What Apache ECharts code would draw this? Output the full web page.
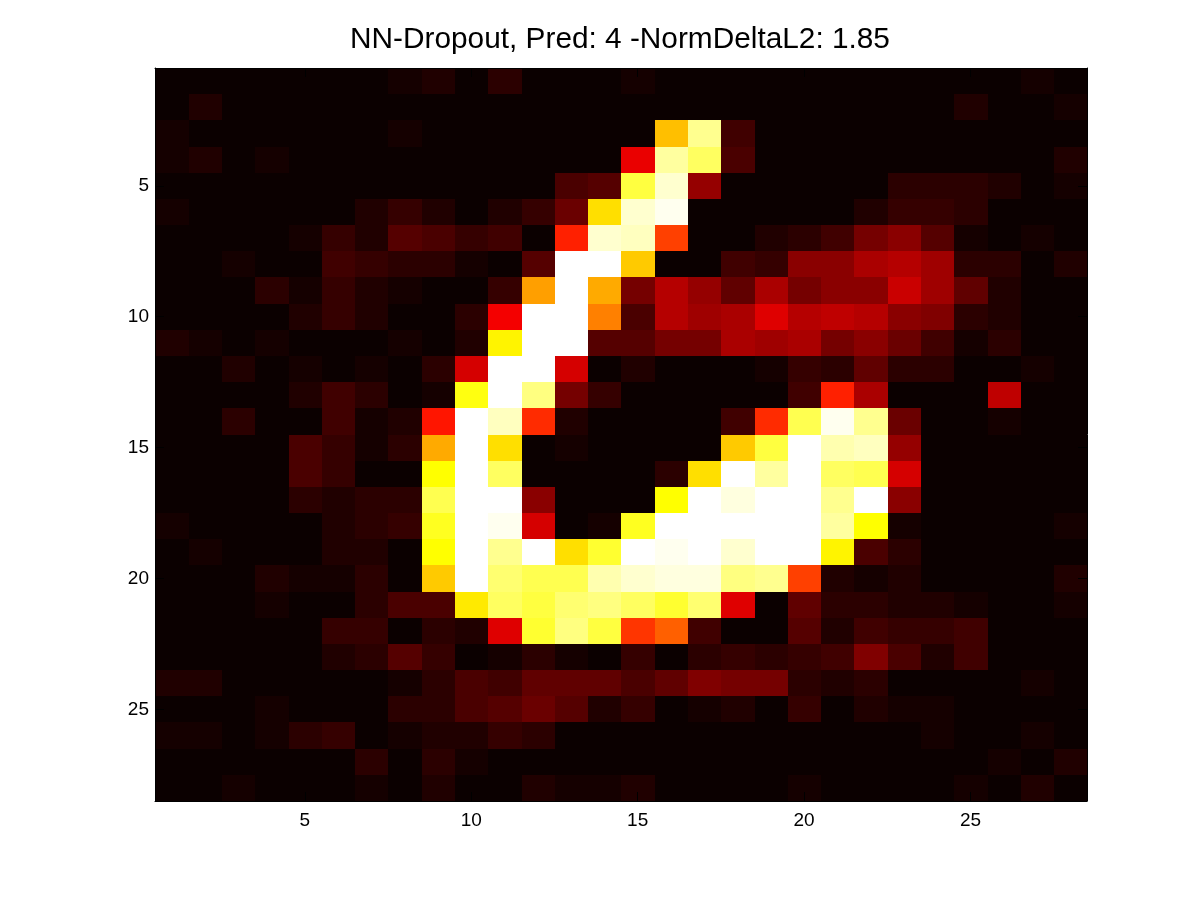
<!DOCTYPE html>
<html>
<head>
<meta charset="utf-8">
<title>NN-Dropout</title>
<script src="https://cdn.jsdelivr.net/npm/echarts@6/dist/echarts.min.js"></script>
<style>
  html, body { margin: 0; background: #fff; }
  #chart { width: 1200px; height: 900px; }
</style>
</head>
<body>
<div id="chart"></div>
<script>
  const titleText = 'NN-Dropout, Pred: 4 -NormDeltaL2: 1.85';
  const columns = [1,2,3,4,5,6,7,8,9,10,11,12,13,14,15,16,17,18,19,20,21,22,23,24,25,26,27,28];
  const rowLabels = [1,2,3,4,5,6,7,8,9,10,11,12,13,14,15,16,17,18,19,20,21,22,23,24,25,26,27,28];
  const tickLabels = [5, 10, 15, 20, 25];

  // colormap index (0-63) per cell
  const cells = [
    [0,0,0,0,0,0,0,1,2,0,3,0,0,0,1,0,0,0,0,0,0,0,0,0,0,0,1,0],
    [0,2,0,0,0,0,0,0,0,0,0,0,0,0,0,0,0,0,0,0,0,0,0,0,2,0,0,1],
    [1,0,0,0,0,0,0,1,0,0,0,0,0,0,0,41,56,5,0,0,0,0,0,0,0,0,0,0],
    [1,2,0,1,0,0,0,0,0,0,0,0,0,0,21,57,53,6,0,0,0,0,0,0,0,0,0,2],
    [0,0,0,0,0,0,0,0,0,0,0,0,6,7,51,60,13,0,0,0,0,0,3,3,3,2,0,1],
    [1,0,0,0,0,0,2,4,2,0,2,4,9,44,60,62,0,0,0,0,0,2,4,4,3,0,0,0],
    [0,0,0,0,1,4,2,7,6,4,5,0,26,60,59,29,0,0,2,3,5,10,12,7,1,0,1,0],
    [0,0,1,0,0,5,4,3,3,1,0,7,63,63,42,0,0,5,4,12,12,15,16,14,3,3,0,2],
    [0,0,0,3,1,4,2,1,0,0,4,38,63,39,10,16,13,8,15,10,12,12,18,14,8,2,0,0],
    [0,0,0,0,2,4,2,0,0,3,22,63,63,35,6,16,14,15,20,16,17,16,12,11,3,2,0,0],
    [2,1,0,1,0,0,0,1,0,2,46,63,63,7,7,10,10,15,14,15,10,12,9,5,1,3,0,0],
    [0,0,2,0,1,0,1,0,3,19,63,63,19,0,2,0,0,0,1,4,3,8,3,3,0,0,1,0],
    [0,0,0,0,2,5,3,0,1,48,63,55,10,4,0,0,0,0,0,5,26,15,0,0,0,17,0,0],
    [0,0,3,0,0,5,1,2,25,63,59,27,2,0,0,0,0,5,27,52,62,56,9,0,0,1,0,0],
    [0,0,0,0,6,4,1,3,39,63,44,0,1,0,0,0,0,42,51,63,58,59,13,0,0,0,0,0],
    [0,0,0,0,6,4,0,0,47,63,53,0,0,0,0,3,44,63,57,63,53,52,19,0,0,0,0,0],
    [0,0,0,0,3,2,3,3,52,63,63,12,0,0,0,47,63,61,63,63,56,63,12,0,0,0,0,0],
    [1,0,0,0,0,2,3,4,49,63,62,19,0,1,49,63,63,63,63,63,57,47,1,0,0,0,0,1],
    [0,1,0,0,0,2,2,0,47,63,56,63,44,50,63,62,63,60,63,63,46,6,3,0,0,0,0,0],
    [0,0,0,2,1,1,3,0,42,63,54,52,52,58,60,61,61,55,56,29,2,1,2,0,0,0,0,2],
    [0,0,0,1,0,0,3,6,6,45,53,51,54,55,53,50,54,20,0,8,3,3,2,2,1,0,0,1],
    [0,0,0,0,0,4,4,0,3,2,20,50,55,51,28,32,5,0,0,7,2,5,4,4,5,0,0,0],
    [0,0,0,0,0,2,3,7,4,0,1,3,1,0,4,0,3,4,3,4,5,11,6,2,5,0,0,0],
    [2,2,0,0,0,0,0,1,3,6,5,8,8,8,6,8,11,10,10,3,2,3,0,0,0,0,1,0],
    [0,0,0,1,0,0,0,3,3,6,7,9,7,2,4,0,1,2,0,4,0,2,1,1,0,0,0,0],
    [1,1,0,1,3,4,0,1,2,2,4,3,0,0,0,0,0,0,0,0,0,0,0,1,0,0,1,0],
    [0,0,0,0,0,0,3,0,3,1,0,0,0,0,0,0,0,0,0,0,0,0,0,0,0,1,0,2],
    [0,0,1,0,0,0,1,0,2,0,0,2,1,1,2,0,0,0,0,1,0,0,0,0,1,0,2,0]
  ];

  // MATLAB hot(64)
  function hotColormap () {
    let colors = [];
    for (let i = 1; i <= 64; i++) {
      let r = Math.min(1, i / 24);
      let g = Math.max(0, Math.min(1, (i - 24) / 24));
      let b = Math.max(0, (i - 48) / 16);
      colors.push('rgb(' + Math.round(r * 255) + ',' + Math.round(g * 255) + ',' + Math.round(b * 255) + ')');
    }
    return colors;
  }

  let data = [];
  cells.forEach((row, y) => {
    row.forEach((value, x) => {
      data.push([x, y, value]);
    });
  });

  const showTick = function (index, value) {
    return tickLabels.indexOf(Number(value)) !== -1;
  };

  const labelStyle = {
    color: '#000',
    fontFamily: 'Liberation Sans',
    fontSize: 19
  };

  function makeAxis (labels, position, inverse, showLabel, margin) {
    return {
      type: 'category',
      position: position,
      inverse: inverse,
      data: labels,
      z: 5,
      splitArea: { show: false },
      splitLine: { show: false },
      axisLine: { show: true, onZero: false, lineStyle: { color: '#000', width: 1 } },
      axisTick: {
        show: true,
        inside: true,
        length: 9,
        alignWithLabel: true,
        interval: showTick,
        lineStyle: { color: '#000', width: 1 }
      },
      axisLabel: Object.assign({ show: showLabel, interval: showTick, margin: margin }, labelStyle)
    };
  }

  // float noise would leave a gap between neighbours
  function snap (v, fn) {
    return fn(Number(v.toFixed(3)));
  }

  // pixel snapped cells, heatmap series leaves hairlines between its rects
  function renderCell (params, api) {
    const center = api.coord([api.value(0), api.value(1)]);
    const size = api.size([1, 1]);
    const x0 = snap(center[0] - size[0] / 2, Math.ceil);
    const x1 = snap(center[0] + size[0] / 2, Math.ceil);
    const y0 = snap(center[1] - size[1] / 2, Math.round);
    const y1 = snap(center[1] + size[1] / 2, Math.round);
    return {
      type: 'rect',
      shape: { x: x0, y: y0, width: x1 - x0, height: y1 - y0 },
      style: { fill: api.visual('color') }
    };
  }

  const option = {
    animation: false,
    backgroundColor: '#fff',
    title: {
      text: titleText,
      left: 615,
      top: 20,
      textAlign: 'center',
      textStyle: {
        color: '#000',
        fontFamily: 'Liberation Sans',
        fontSize: 29.8,
        fontWeight: 'normal'
      }
    },
    grid: {
      left: 155,
      top: 68,
      width: 932,
      height: 733
    },
    xAxis: [
      makeAxis(columns, 'bottom', false, true, 10),
      makeAxis(columns, 'top', false, false, 0)
    ],
    yAxis: [
      makeAxis(rowLabels, 'left', true, true, 6),
      makeAxis(rowLabels, 'right', true, false, 0)
    ],
    visualMap: {
      show: false,
      type: 'continuous',
      dimension: 2,
      min: 0,
      max: 63,
      inRange: { color: hotColormap() }
    },
    series: [{
      type: 'custom',
      renderItem: renderCell,
      encode: { x: 0, y: 1 },
      data: data,
      silent: true
    }]
  };

  const chart = echarts.init(document.getElementById('chart'), null, { renderer: 'canvas' });
  chart.setOption(option);
</script>
</body>
</html>
